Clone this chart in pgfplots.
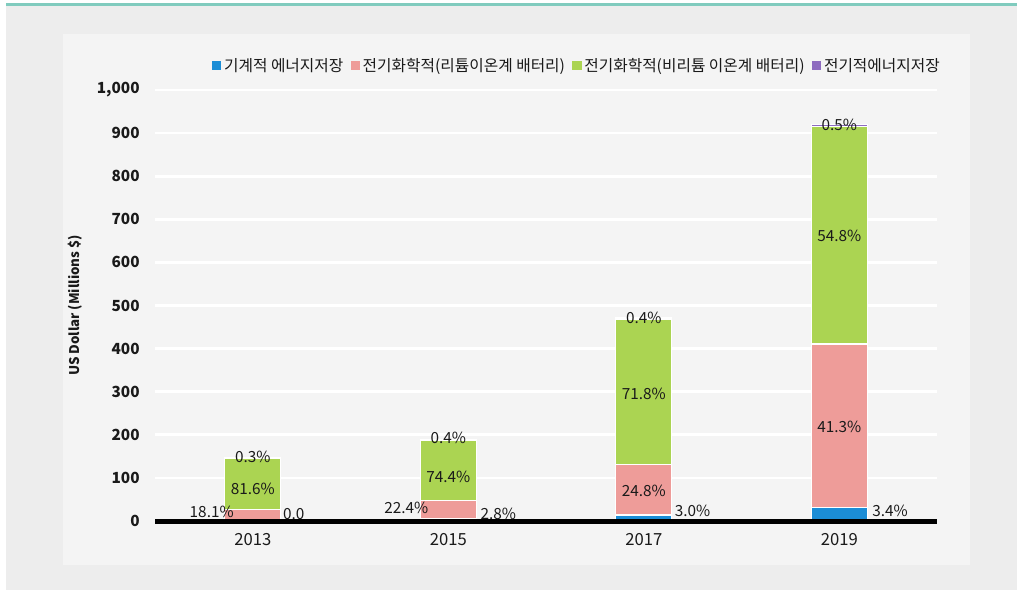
\documentclass[border=0pt]{standalone}
\usepackage{fontspec}
\setmainfont{Noto Sans CJK KR}
\usepackage{pgfplots}
\pgfplotsset{compat=1.18}
\definecolor{cblue}{HTML}{1B8DD6}
\definecolor{cpink}{HTML}{EE9C99}
\definecolor{cgreen}{HTML}{ABD452}
\definecolor{cpurple}{HTML}{8D6BBF}
\definecolor{outerbg}{HTML}{EDEDED}
\definecolor{panelbg}{HTML}{F4F4F4}
\definecolor{tealline}{HTML}{80CBBE}
\definecolor{txt}{HTML}{1A1A1A}
\begin{document}
\begin{tikzpicture}
\fill[white] (0pt,0pt) rectangle (762.75pt,442.5pt);
\fill[outerbg] (4.5pt,0pt) rectangle (762.75pt,438pt);
\fill[tealline] (4.5pt,438pt) rectangle (762.75pt,440.6pt);
\fill[panelbg] (47.25pt,18.75pt) rectangle (727.5pt,417pt);
\path[use as bounding box] (0pt,0pt) rectangle (762.75pt,442.5pt);
\begin{axis}[
  at={(116.25pt,51.75pt)}, anchor=south west,
  scale only axis, width=586.5pt, height=323.25pt,
  xmin=-0.5, xmax=3.5, ymin=0, ymax=1000,
  ybar stacked, bar width=42pt,
  axis line style={draw=none},
  major tick length=0pt,
  ymajorgrids, grid style={white, line width=2pt},
  ytick={0,100,...,1000},
  xtick={0,1,2,3}, xticklabels={2013,2015,2017,2019},
  /pgf/number format/assume math mode=true,
  /pgf/number format/1000 sep={,},
  yticklabel style={font=\fontsize{11.5}{13}\selectfont\bfseries, text=txt, xshift=-8pt},
  xticklabel style={font=\fontsize{12.5}{14}\selectfont, text=txt, yshift=-6pt},
  ylabel={US Dollar (Millions \$)},
  every axis y label/.style={at={(rel axis cs:0,0.5)}, xshift=-60pt, rotate=90, anchor=center, font=\fontsize{10}{12}\selectfont\bfseries, text=txt},
  legend columns=4,
  legend style={at={(rel axis cs:0.54,1.056)}, anchor=center, draw=none, fill=none,
    font=\fontsize{11.8}{13}\selectfont, text=txt,
    /tikz/every even column/.append style={column sep=3.5pt},
    inner sep=0pt},
  legend image code/.code={\fill[#1,draw=none] (0pt,-3.4pt) rectangle (7pt,3.6pt);},
  every axis plot/.append style={draw=white, line width=1pt},
  clip=false,
]
\addplot[fill=cblue] coordinates {(0,0) (1,5.3) (2,14) (3,31)};
\addplot[fill=cpink] coordinates {(0,26.4) (1,42) (2,117) (3,380)};
\addplot[fill=cgreen] coordinates {(0,119) (1,140) (2,338) (3,504)};
\addplot[fill=cpurple] coordinates {(0,0.4) (1,0.75) (2,1.9) (3,4.6)};
\legend{기계적 에너지저장, 전기화학적(리튬이온계 배터리), 전기화학적(비리튬 이온계 배터리), 전기적에너지저장}
\coordinate (zl) at (axis cs:-0.5,0);
\coordinate (zr) at (axis cs:3.5,0);
\coordinate (a1) at (axis cs:0,149);
\coordinate (a2) at (axis cs:0,74);
\coordinate (a3) at (axis cs:-0.21,21);
\coordinate (a4) at (axis cs:0.21,16);
\coordinate (b1) at (axis cs:1,193);
\coordinate (b2) at (axis cs:1,102);
\coordinate (b3) at (axis cs:0.785,30);
\coordinate (b4) at (axis cs:1.256,16);
\coordinate (c1) at (axis cs:2,471);
\coordinate (c2) at (axis cs:2,296);
\coordinate (c3) at (axis cs:2,70);
\coordinate (c4) at (axis cs:2.25,23);
\coordinate (d1) at (axis cs:3,919);
\coordinate (d2) at (axis cs:3,661);
\coordinate (d3) at (axis cs:3,218);
\coordinate (d4) at (axis cs:3.26,23);
\end{axis}
\draw[black, line width=3.75pt] (zl) -- (zr);
\tikzset{lab/.style={font=\fontsize{11.5}{13}\selectfont, text=txt, inner sep=0pt}}
\node[lab] at (a1) {0.3\%};
\node[lab] at (a2) {81.6\%};
\node[lab] at (a3) {18.1\%};
\node[lab] at (a4) {0.0};
\node[lab] at (b1) {0.4\%};
\node[lab] at (b2) {74.4\%};
\node[lab] at (b3) {22.4\%};
\node[lab] at (b4) {2.8\%};
\node[lab] at (c1) {0.4\%};
\node[lab] at (c2) {71.8\%};
\node[lab] at (c3) {24.8\%};
\node[lab] at (c4) {3.0\%};
\node[lab] at (d1) {0.5\%};
\node[lab] at (d2) {54.8\%};
\node[lab] at (d3) {41.3\%};
\node[lab] at (d4) {3.4\%};
\end{tikzpicture}
\end{document}
